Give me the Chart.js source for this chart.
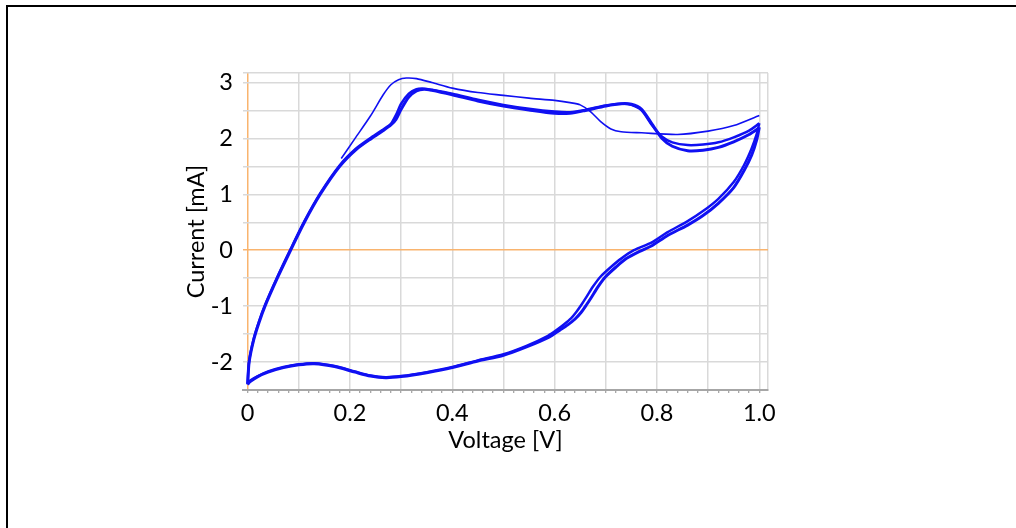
<!DOCTYPE html>
<html>
<head>
<meta charset="utf-8">
<script src="https://cdn.jsdelivr.net/npm/chart.js@4.4.1/dist/chart.umd.min.js"></script>
<style>
  html, body { margin: 0; padding: 0; background: #fff; }
  #wrap { position: relative; width: 1016px; height: 528px; overflow: hidden; }
  #frame { position: absolute; left: 6px; top: 5px; width: 1100px; height: 600px;
           border-left: 2px solid #000; border-top: 2px solid #000; }
  canvas { position: absolute; left: 0; top: 0; }
</style>
</head>
<body>
<div id="wrap">
  <div id="frame"></div>
  <canvas id="cv" width="1016" height="528"></canvas>
</div>
<script>
// first sweep (thin trace, starts at 0.18 V)
const cycle1V = [0.183, 0.21, 0.24, 0.265, 0.28, 0.295, 0.31, 0.33, 0.36, 0.40, 0.45, 0.50, 0.55, 0.60, 0.63, 0.65, 0.67, 0.69, 0.71, 0.73, 0.77, 0.84, 0.90, 0.95, 1.0];
const cycle1I = [1.64, 2.00, 2.40, 2.78, 2.96, 3.05, 3.08, 3.07, 3.00, 2.90, 2.82, 2.77, 2.72, 2.68, 2.64, 2.60, 2.48, 2.30, 2.17, 2.12, 2.10, 2.07, 2.13, 2.23, 2.41];

// following cycles, anodic sweep
const fwdAV = [0.000, 0.003, 0.012, 0.022, 0.034, 0.058, 0.084, 0.111, 0.142, 0.180, 0.212, 0.242, 0.265, 0.28, 0.29, 0.30, 0.315, 0.33, 0.345, 0.36, 0.40, 0.45, 0.50, 0.55, 0.60, 0.63, 0.66, 0.70, 0.73, 0.75, 0.77, 0.79, 0.81, 0.83, 0.86, 0.89, 0.92, 0.95, 0.98, 1.0];
const fwdAI = [-2.40, -2.00, -1.60, -1.30, -1.00, -0.50, 0.00, 0.50, 1.00, 1.50, 1.80, 2.00, 2.14, 2.24, 2.34, 2.52, 2.74, 2.85, 2.88, 2.86, 2.78, 2.67, 2.58, 2.51, 2.45, 2.45, 2.50, 2.58, 2.62, 2.61, 2.52, 2.26, 2.00, 1.86, 1.78, 1.79, 1.84, 1.94, 2.07, 2.19];
const fwdBV = [0.000, 0.003, 0.012, 0.022, 0.034, 0.058, 0.084, 0.111, 0.142, 0.180, 0.212, 0.242, 0.265, 0.28, 0.29, 0.30, 0.315, 0.33, 0.345, 0.36, 0.40, 0.45, 0.50, 0.55, 0.60, 0.63, 0.66, 0.70, 0.73, 0.75, 0.77, 0.79, 0.81, 0.83, 0.86, 0.89, 0.92, 0.95, 0.98, 1.0];
const fwdBI = [-2.38, -1.98, -1.58, -1.28, -0.98, -0.48, 0.02, 0.52, 1.02, 1.52, 1.82, 2.02, 2.16, 2.26, 2.42, 2.62, 2.80, 2.88, 2.89, 2.87, 2.80, 2.69, 2.60, 2.53, 2.48, 2.47, 2.51, 2.59, 2.62, 2.60, 2.50, 2.24, 2.03, 1.93, 1.88, 1.89, 1.93, 2.02, 2.14, 2.27];

// cathodic sweeps
const revAV = [1.0, 0.995, 0.985, 0.97, 0.95, 0.92, 0.89, 0.86, 0.82, 0.79, 0.766, 0.74, 0.72, 0.70, 0.685, 0.672, 0.662, 0.652, 0.64, 0.625, 0.61, 0.59, 0.545, 0.50, 0.45, 0.40, 0.35, 0.30, 0.27, 0.24, 0.21, 0.17, 0.13, 0.10, 0.07, 0.04, 0.02, 0.005, 0.0];
const revAI = [2.20, 1.98, 1.70, 1.42, 1.12, 0.84, 0.62, 0.45, 0.26, 0.08, -0.02, -0.15, -0.30, -0.47, -0.65, -0.84, -0.98, -1.11, -1.23, -1.34, -1.43, -1.55, -1.73, -1.88, -1.98, -2.10, -2.19, -2.26, -2.28, -2.25, -2.18, -2.08, -2.03, -2.05, -2.10, -2.18, -2.26, -2.35, -2.40];
const revBV = [1.0, 0.995, 0.985, 0.97, 0.95, 0.92, 0.89, 0.86, 0.82, 0.79, 0.755, 0.73, 0.71, 0.69, 0.675, 0.662, 0.652, 0.642, 0.632, 0.618, 0.605, 0.587, 0.545, 0.50, 0.45, 0.40, 0.35, 0.30, 0.27, 0.24, 0.21, 0.17, 0.13, 0.10, 0.07, 0.04, 0.02, 0.005, 0.0];
const revBI = [2.27, 2.08, 1.82, 1.52, 1.22, 0.92, 0.70, 0.52, 0.32, 0.14, 0.00, -0.15, -0.30, -0.47, -0.65, -0.84, -0.98, -1.11, -1.22, -1.33, -1.42, -1.53, -1.71, -1.86, -1.97, -2.09, -2.18, -2.25, -2.27, -2.24, -2.17, -2.07, -2.02, -2.04, -2.09, -2.17, -2.25, -2.33, -2.38];

// axes
const xMin = -0.009, xMax = 1.017;
const yMin = -2.5, yMax = 3.17;
const xLabelValues = [0, 0.2, 0.4, 0.6, 0.8, 1.0];
const xLabels = ['0', '0.2', '0.4', '0.6', '0.8', '1.0'];
const yGrid = [-2.5, -2, -1.5, -1, -0.5, 0, 0.5, 1, 1.5, 2, 2.5, 3, yMax];
const yLabelValues = [-2, -1, 0, 1, 2, 3];
const yLabels = ['-2', '-1', '0', '1', '2', '3'];

const BLUE = '#1010f2';
const ORANGE = '#f9b46e';
const GRID = '#d9d9d9';
const FONT = { family: 'Lato', size: 23.5 };

function pts(xs, ys) {
    return xs.map((x, i) => ({x: x, y: ys[i]}));
}
function near(a, b) { return Math.abs(a - b) < 1e-6; }

function trace(xs, ys, width) {
    return {
        data: pts(xs, ys),
        showLine: true,
        borderColor: BLUE,
        backgroundColor: BLUE,
        borderWidth: width,
        pointRadius: 0,
        tension: 0.25
    };
}

// x ticks every 0.02 (minor marks), grid every 0.1
const xTicks = [];
for (let k = 0; k <= 50; k++) xTicks.push(Math.round(k * 2) / 100);
xTicks.push(xMax);

new Chart(document.getElementById('cv'), {
    type: 'scatter',
    data: {
        datasets: [
            trace(revAV, revAI, 3),
            trace(revBV, revBI, 2.5),
            trace(fwdAV, fwdAI, 3),
            trace(fwdBV, fwdBI, 2.5),
            trace(cycle1V, cycle1I, 1.6)
        ]
    },
    options: {
        responsive: false,
        animation: false,
        layout: { padding: { left: 182, right: 248, top: 73, bottom: 73 } },
        plugins: { legend: { display: false }, tooltip: { enabled: false } },
        scales: {
            x: {
                type: 'linear',
                min: xMin,
                max: xMax,
                afterBuildTicks: s => { s.ticks = xTicks.map(v => ({value: v})); },
                afterFit: s => { s.height = 65; },
                ticks: {
                    autoSkip: false,
                    maxRotation: 0,
                    padding: 6,
                    color: '#000',
                    font: FONT,
                    callback: v => {
                        const i = xLabelValues.findIndex(p => near(p, v));
                        return i >= 0 ? xLabels[i] : '';
                    }
                },
                grid: {
                    lineWidth: 1.5,
                    tickLength: 3,
                    tickWidth: 1,
                    tickColor: ctx => near(ctx.tick.value, xMax) ? 'rgba(0,0,0,0)' : '#8c8c8c',
                    color: ctx => {
                        const v = ctx.tick.value;
                        if (near(v, 0)) return ORANGE;
                        if (near(v, xMax)) return GRID;
                        return near(Math.round(v * 10) / 10, v) ? GRID : 'rgba(0,0,0,0)';
                    }
                },
                border: { display: true, color: '#a6a6a6', width: 2 },
                title: {
                    display: true,
                    text: 'Voltage [V]',
                    color: '#000',
                    font: FONT,
                    padding: { top: 0, bottom: 0 }
                }
            },
            y: {
                type: 'linear',
                min: yMin,
                max: yMax,
                afterBuildTicks: s => { s.ticks = yGrid.map(v => ({value: v})); },
                afterFit: s => { s.width = 61; },
                ticks: {
                    autoSkip: false,
                    padding: 10,
                    color: '#000',
                    font: FONT,
                    callback: v => {
                        const i = yLabelValues.findIndex(p => near(p, v));
                        return i >= 0 ? yLabels[i] : '';
                    }
                },
                grid: {
                    drawTicks: false,
                    lineWidth: 1.5,
                    color: ctx => {
                        const v = ctx.tick.value;
                        if (near(v, 0)) return ORANGE;
                        if (near(v, yMin)) return 'rgba(0,0,0,0)';
                        return GRID;
                    }
                },
                border: { display: false },
                title: {
                    display: true,
                    text: 'Current [mA]',
                    color: '#000',
                    font: FONT,
                    padding: { top: 0, bottom: 3 }
                }
            }
        }
    }
});
</script>
</body>
</html>
